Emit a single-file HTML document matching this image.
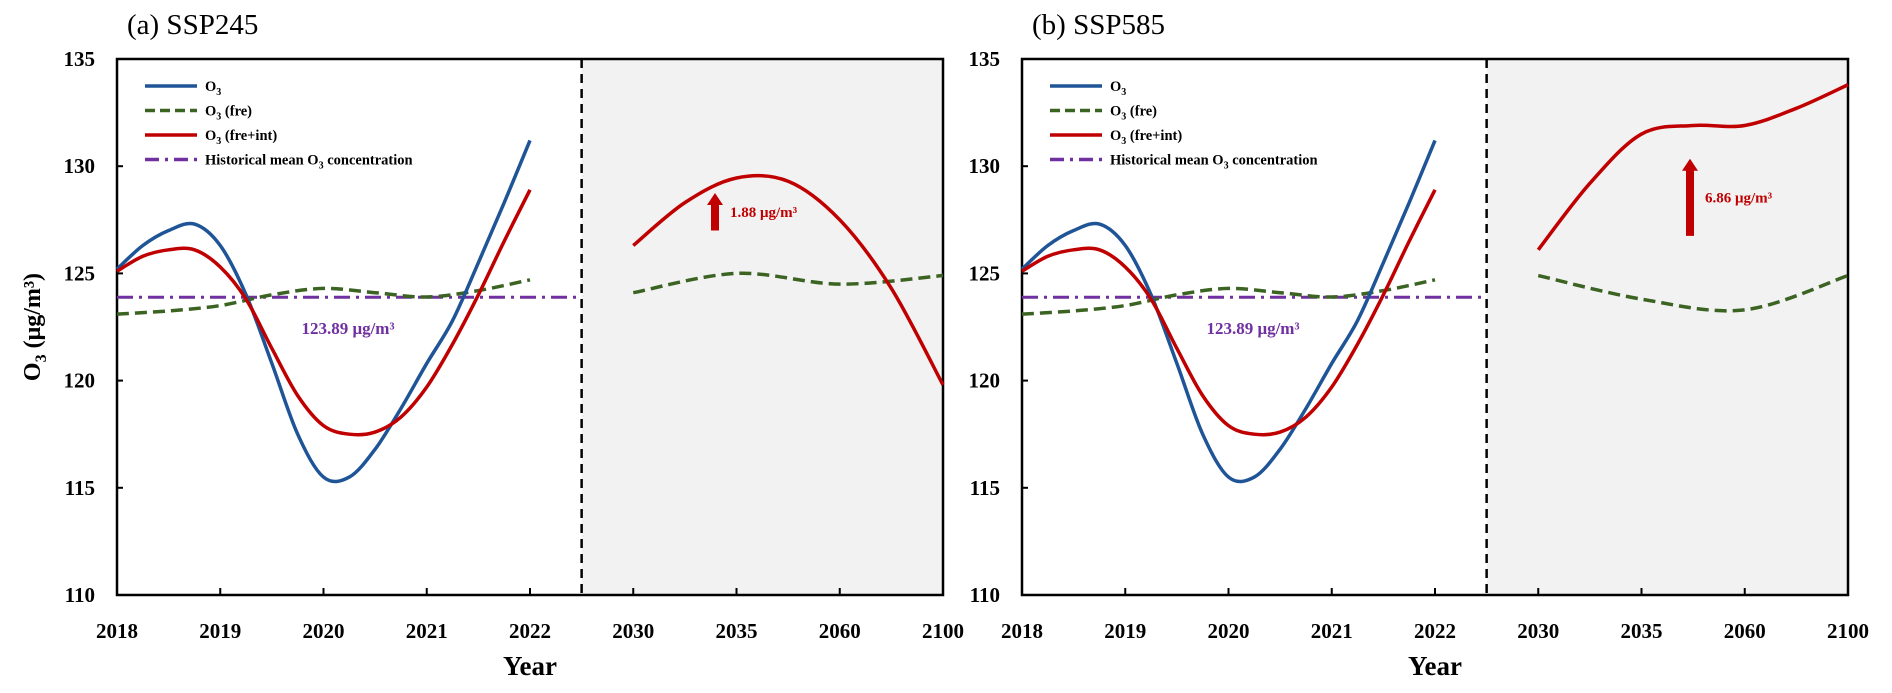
<!DOCTYPE html>
<html><head><meta charset="utf-8"><style>
html,body{margin:0;padding:0;background:#fff;}
svg{display:block;font-family:"Liberation Serif",serif;}
</style></head><body>
<svg id="chart" width="1892" height="693" viewBox="0 0 1892 693" xmlns="http://www.w3.org/2000/svg"></svg>
<script>
// ---- data ----
const xLabels = ["2018","2019","2020","2021","2022","2030","2035","2060","2100"];
const yTicks = [110,115,120,125,130,135];
const histX = [0,0.25,0.5,0.75,1,1.25,1.5,1.75,2,2.25,2.5,2.75,3,3.25,3.5,3.75,4];
const blueO3 = [125.2,126.3,127.0,127.3,126.3,124.0,120.8,117.5,115.5,115.5,116.8,118.7,120.8,122.8,125.5,128.3,131.2];
const redHist = [125.1,125.8,126.1,126.1,125.3,123.8,121.5,119.3,117.9,117.5,117.6,118.3,119.7,121.7,124.0,126.5,128.9];
const greenX = [0,0.5,1,1.5,2,2.5,3,3.5,4];
const greenHist = [123.1,123.25,123.5,124.0,124.3,124.1,123.9,124.2,124.7];
const histMean = 123.89;
const futX245 = [5,5.5,6,6.5,7,7.5,8];
const red245 = [126.3,128.3,129.45,129.3,127.5,124.3,119.8];
const futX585 = [5,5.5,6,6.5,7,7.5,8];
const red585 = [126.1,129.2,131.5,131.9,131.9,132.7,133.8];
const greenFutX = [5,6,7,8];
const green245 = [124.1,125.0,124.5,124.9];
const green585 = [124.9,123.8,123.3,124.9];
const panels = [
  {id:"a", title:"(a) SSP245", left:117, red:red245, redX:futX245, green:green245, diff:"1.88 μg/m³", arrowX:715, arrowFrom:127.0, arrowTo:128.75},
  {id:"b", title:"(b) SSP585", left:1022, red:red585, redX:futX585, green:green585, diff:"6.86 μg/m³", arrowX:1690, arrowFrom:126.75, arrowTo:130.35}
];
// ---- layout ----
const W = 826, TOP = 59, BOT = 595;
const svg = document.getElementById('chart');
const NS = "http://www.w3.org/2000/svg";
function el(tag, attrs, parent){const e=document.createElementNS(NS,tag);for(const k in attrs)e.setAttribute(k,attrs[k]);(parent||svg).appendChild(e);return e;}
function yS(v){return BOT - (v-110)/25*(BOT-TOP);}
function smooth(pts){
  let d="M"+pts[0][0]+","+pts[0][1];
  for(let i=0;i<pts.length-1;i++){
    const p0=pts[Math.max(0,i-1)],p1=pts[i],p2=pts[i+1],p3=pts[Math.min(pts.length-1,i+2)];
    const c1=[p1[0]+(p2[0]-p0[0])/6,p1[1]+(p2[1]-p0[1])/6];
    const c2=[p2[0]-(p3[0]-p1[0])/6,p2[1]-(p3[1]-p1[1])/6];
    d+=" C"+c1[0]+","+c1[1]+" "+c2[0]+","+c2[1]+" "+p2[0]+","+p2[1];
  }
  return d;
}
// y axis title
const yt = el('text',{x:0,y:0,transform:"translate(40,327) rotate(-90)","text-anchor":"middle","font-size":"24","font-weight":"bold"});


yt.innerHTML='O<tspan font-size="16" dy="6">3</tspan><tspan dy="-6"> (μg/m³)</tspan>';

panels.forEach(p=>{
  const L=p.left, step=W/8;
  const xS = i => L + i*step;
  const g = el('g',{});
  
  
  const sh = el('rect',{x:xS(4.5),y:TOP,width:W-4.5*step,height:BOT-TOP,fill:"#f2f2f2"},g);
  
  
  const fr = el('rect',{x:L,y:TOP,width:W,height:BOT-TOP,fill:"none",stroke:"#000","stroke-width":"2.5"},g);
  
  
  const dv = el('line',{x1:xS(4.5),x2:xS(4.5),y1:TOP,y2:BOT,stroke:"#000","stroke-width":"2.5","stroke-dasharray":"9,6"},g);
  
  
  const t = el('text',{x:L+10,y:34,"font-size":"29"},g);
  
  
  t.textContent=p.title;
  yTicks.forEach(v=>{
    const tk=el('line',{x1:L,x2:L+6,y1:yS(v),y2:yS(v),stroke:"#000","stroke-width":"2"},g);
    
    
    const tl=el('text',{x:L-22,y:yS(v)+7,"text-anchor":"end","font-size":"21","font-weight":"bold"},g);
    
    
    tl.textContent=v;
  });
  xLabels.forEach((lab,i)=>{
    const tk=el('line',{x1:xS(i),x2:xS(i),y1:BOT,y2:BOT-7,stroke:"#000","stroke-width":"2"},g);
    
    
    const tl=el('text',{x:xS(i),y:BOT+43,"text-anchor":"middle","font-size":"21","font-weight":"bold"},g);
    
    
    tl.textContent=lab;
  });
  const xt=el('text',{x:L+W/2,y:675,"text-anchor":"middle","font-size":"27","font-weight":"bold"},g);
  
  
  xt.textContent="Year";
  const hm=el('line',{x1:xS(0),x2:xS(4.5),y1:yS(histMean),y2:yS(histMean),stroke:"#7030a0","stroke-width":"3","stroke-dasharray":"16,6,3,6"},g);
  
  
  const gh=el('path',{d:smooth(greenX.map((x,i)=>[xS(x),yS(greenHist[i])])),fill:"none",stroke:"#3b6322","stroke-width":"3.5","stroke-dasharray":"12,6"},g);
  
  
  const gf=el('path',{d:smooth(greenFutX.map((x,i)=>[xS(x),yS(p.green[i])])),fill:"none",stroke:"#3b6322","stroke-width":"3.5","stroke-dasharray":"12,6"},g);
  
  
  const bl=el('path',{d:smooth(histX.map((x,i)=>[xS(x),yS(blueO3[i])])),fill:"none",stroke:"#1f5597","stroke-width":"3.5"},g);
  
  
  const rh=el('path',{d:smooth(histX.map((x,i)=>[xS(x),yS(redHist[i])])),fill:"none",stroke:"#c00000","stroke-width":"3.5"},g);
  
  
  const rf=el('path',{d:smooth(p.redX.map((x,i)=>[xS(x),yS(p.red[i])])),fill:"none",stroke:"#c00000","stroke-width":"3.5"},g);
  
  
  const ml=el('text',{x:L+231,y:334,"text-anchor":"middle","font-size":"17","font-weight":"bold",fill:"#7030a0"},g);
  
  
  ml.textContent="123.89 μg/m³";
  const y1=yS(p.arrowFrom), y2=yS(p.arrowTo);
  const ar=el('path',{d:`M${p.arrowX-4},${y1} L${p.arrowX-4},${y2+12} L${p.arrowX-8},${y2+12} L${p.arrowX},${y2} L${p.arrowX+8},${y2+12} L${p.arrowX+4},${y2+12} L${p.arrowX+4},${y1} Z`,fill:"#c00000"},g);
  
  
  const dl=el('text',{x:p.arrowX+15,y:(y1+y2)/2+5,"font-size":"15","font-weight":"bold",fill:"#c00000"},g);
  
  
  dl.textContent=p.diff;
  const lg=el('g',{},g);
  
  
  const items=[["#1f5597","",'O<tspan font-size="10" dy="4">3</tspan>'],
    ["#3b6322","10,5",'O<tspan font-size="10" dy="4">3</tspan><tspan dy="-4"> (fre)</tspan>'],
    ["#c00000","",'O<tspan font-size="10" dy="4">3</tspan><tspan dy="-4"> (fre+int)</tspan>'],
    ["#7030a0","14,6,3,6",'Historical mean O<tspan font-size="10" dy="4">3</tspan><tspan dy="-4"> concentration</tspan>']];
  items.forEach((it,k)=>{
    const yy=86+k*24.5;
    const ln=el('line',{x1:L+28,x2:L+80,y1:yy,y2:yy,stroke:it[0],"stroke-width":"3.5","stroke-dasharray":it[1]||"none"},lg);
    
    
    const tx=el('text',{x:L+88,y:yy+5,"font-size":"14.5","font-weight":"bold"},lg);
    
    
    tx.innerHTML=it[2];
  });
});
</script>
</body></html>
